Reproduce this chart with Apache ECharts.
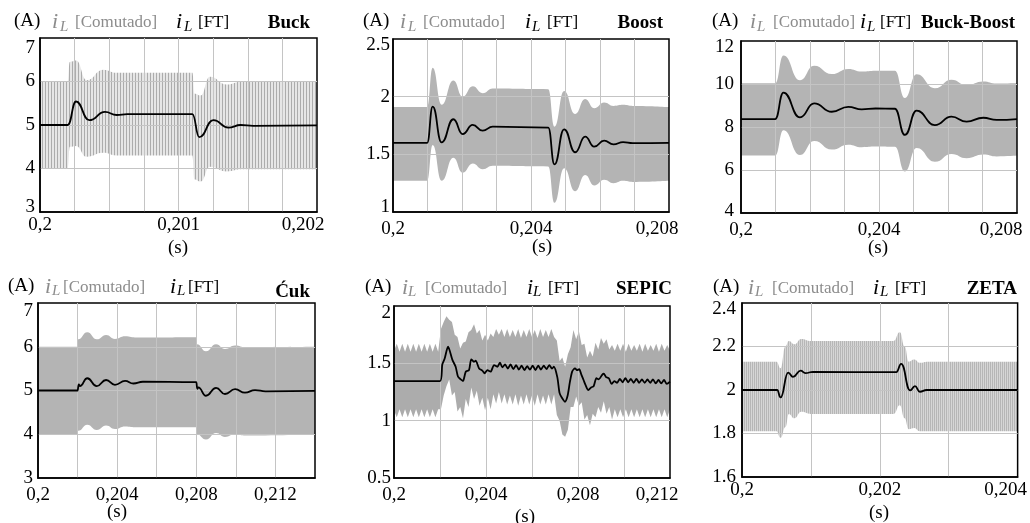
<!DOCTYPE html>
<html lang="pt-BR">
<head>
<meta charset="UTF-8">
<title>Corrente no indutor: comutado x função de transferência</title>
<script src="https://cdn.jsdelivr.net/npm/echarts@6/dist/echarts.min.js"></script>
<style>
  body { margin: 0; background: #fff; }
  #chart { width: 1030px; height: 523px; }
</style>
</head>
<body>
<div id="chart"></div>
<script>
// tempo em ms (o eixo mostra em s)

// ---- Buck ----
const buckXLabels = [200, 201, 202];
const buckT  = [200, 200.2, 200.26, 200.356, 200.469, 200.554, 200.63, 201.1, 201.15, 201.252, 201.36, 201.449, 201.54, 202];
const buckFT = [5.0, 5.0, 5.54, 5.11, 5.30, 5.23, 5.25, 5.25, 4.72, 5.11, 4.94, 5.00, 4.98, 4.99];
const buckBandT = [200, 200.2, 200.215, 200.26, 200.337, 200.457, 200.55, 201.1, 201.115, 201.16, 201.227, 201.348, 201.46, 202];
const buckUp = [6.0, 6.0, 6.45, 6.48, 6.03, 6.27, 6.2, 6.2, 5.72, 5.68, 6.11, 5.93, 6.0, 6.0];
const buckLo = [4.0, 4.0, 4.5, 4.52, 4.27, 4.36, 4.3, 4.3, 3.75, 3.7, 4.04, 3.93, 3.98, 3.98];

// ---- Boost ----
const boostXLabels = [200, 204, 208];
const boostT  = [200, 200.99, 201.15, 201.41, 201.75, 202.02, 202.31, 202.6, 202.89, 204.5, 204.68, 204.96, 205.28, 205.57, 205.83, 206.12, 206.39, 206.67, 206.95, 208];
const boostFT = [1.60, 1.60, 1.913, 1.604, 1.804, 1.676, 1.755, 1.705, 1.74, 1.732, 1.413, 1.717, 1.518, 1.653, 1.566, 1.618, 1.587, 1.606, 1.597, 1.60];
const boostUp = [1.91, 1.91, 2.25, 1.93, 2.14, 2.0, 2.09, 2.03, 2.07, 2.065, 1.74, 2.05, 1.85, 1.98, 1.9, 1.95, 1.92, 1.93, 1.92, 1.91];
const boostLo = [1.27, 1.27, 1.58, 1.27, 1.47, 1.34, 1.42, 1.37, 1.40, 1.395, 1.08, 1.38, 1.18, 1.32, 1.23, 1.28, 1.25, 1.27, 1.26, 1.27];

// ---- Buck-Boost ----
const bbXLabels = [200, 204, 208];
const bbT  = [200, 200.99, 201.23, 201.71, 202.12, 202.63, 203.11, 203.5, 203.9, 204.46, 204.75, 205.09, 205.62, 206.1, 206.54, 207.02, 207.41, 208];
const bbFT = [8.37, 8.37, 9.6, 8.45, 9.1, 8.71, 8.94, 8.82, 8.86, 8.85, 7.63, 8.76, 8.09, 8.48, 8.25, 8.43, 8.33, 8.37];
const bbUp = [10.03, 10.03, 11.33, 10.18, 10.85, 10.46, 10.7, 10.58, 10.62, 10.62, 9.35, 10.45, 9.8, 10.2, 9.95, 10.12, 10.02, 10.03];
const bbLo = [6.67, 6.67, 7.85, 6.7, 7.35, 6.95, 7.18, 7.06, 7.09, 7.08, 5.93, 7.02, 6.38, 6.75, 6.55, 6.72, 6.63, 6.67];

// ---- Cuk ----
const cukXLabels = [200, 204, 208, 212];
const cukT  = [200, 202.0, 202.06, 202.12, 202.49, 202.97, 203.44, 203.89, 204.4, 204.82, 205.3, 208.0, 208.05, 208.1, 208.49, 209.0, 209.45, 209.96, 210.46, 210.97, 211.5, 214];
const cukFT = [5.0, 5.0, 5.14, 5.10, 5.28, 5.10, 5.24, 5.13, 5.22, 5.16, 5.20, 5.19, 5.04, 5.07, 4.88, 5.06, 4.92, 5.03, 4.95, 5.01, 4.98, 4.99];
const cukBandT = [200, 202.0, 202.03, 202.49, 202.97, 203.44, 203.89, 204.4, 205.0, 208.0, 208.03, 208.49, 209.0, 209.45, 209.96, 210.5, 214];
const cukUp = [6.0, 6.0, 6.17, 6.33, 6.17, 6.27, 6.18, 6.24, 6.21, 6.22, 6.06, 5.9, 6.06, 5.95, 6.03, 5.99, 6.0];
const cukLo = [4.0, 4.0, 4.08, 4.22, 4.1, 4.2, 4.12, 4.18, 4.16, 4.16, 4.0, 3.88, 4.03, 3.94, 4.0, 3.97, 4.0];

// ---- SEPIC ----
const sepicXLabels = [200, 204, 208, 212];
const sepicT = [200, 202.0, 202.1, 202.2, 202.35, 202.54, 202.68, 202.78, 202.9, 203.0, 203.12, 203.26, 203.36, 203.48, 203.55,
  203.7, 203.84, 203.94, 204.06, 204.2, 204.35, 204.49, 204.61, 204.71, 204.83, 204.95, 205.07, 205.19, 205.31, 205.43,
  205.55, 205.67, 205.79, 205.91, 206.03, 206.15, 206.27, 206.39, 206.51, 206.63, 206.75, 206.87, 206.95, 207.1, 207.2,
  207.3, 207.43, 207.55, 207.65, 207.75, 207.87, 207.97, 208.05, 208.15, 208.25, 208.33, 208.45, 208.57, 208.68, 208.8,
  208.9, 209.05, 209.12, 209.22, 209.34, 209.46, 209.58, 209.7, 209.82, 209.94, 210.06, 210.18, 210.3, 210.42, 210.54,
  210.66, 210.78, 210.9, 211.02, 211.14, 211.26, 211.38, 211.5, 211.62, 211.74, 211.86, 212];
const sepicFT = [1.345, 1.345, 1.49, 1.54, 1.645, 1.53, 1.47, 1.385, 1.36, 1.346, 1.427, 1.44, 1.535, 1.514, 1.523,
  1.456, 1.436, 1.413, 1.44, 1.427, 1.485, 1.47, 1.505, 1.465, 1.49, 1.455, 1.49, 1.45, 1.485, 1.445,
  1.48, 1.44, 1.475, 1.445, 1.48, 1.44, 1.48, 1.445, 1.48, 1.45, 1.485, 1.455, 1.47, 1.38, 1.24,
  1.2, 1.165, 1.22, 1.34, 1.43, 1.456, 1.44, 1.45, 1.40, 1.35, 1.31, 1.267, 1.29, 1.3, 1.37,
  1.36, 1.4, 1.41, 1.38, 1.37, 1.32, 1.345, 1.33, 1.365, 1.335, 1.37, 1.335, 1.365, 1.33, 1.365,
  1.33, 1.36, 1.33, 1.36, 1.33, 1.36, 1.325, 1.355, 1.325, 1.355, 1.32, 1.34];
const sepicBandT = [200.00, 200.12, 200.24, 200.36, 200.48, 200.60, 200.72, 200.84, 200.96, 201.08,
  201.20, 201.32, 201.44, 201.56, 201.68, 201.80, 201.92, 202.04, 202.16, 202.28,
  202.40, 202.52, 202.64, 202.76, 202.88, 203.00, 203.12, 203.24, 203.36, 203.48,
  203.60, 203.72, 203.84, 203.96, 204.08, 204.20, 204.32, 204.44, 204.56, 204.68,
  204.80, 204.92, 205.04, 205.16, 205.28, 205.40, 205.52, 205.64, 205.76, 205.88,
  206.00, 206.12, 206.24, 206.36, 206.48, 206.60, 206.72, 206.84, 206.96, 207.08,
  207.20, 207.32, 207.44, 207.56, 207.68, 207.80, 207.92, 208.04, 208.16, 208.28,
  208.40, 208.52, 208.64, 208.76, 208.88, 209.00, 209.12, 209.24, 209.36, 209.48,
  209.60, 209.72, 209.84, 209.96, 210.08, 210.20, 210.32, 210.44, 210.56, 210.68,
  210.80, 210.92, 211.04, 211.16, 211.28, 211.40, 211.52, 211.64, 211.76, 211.88,
  212.00];
const sepicUp = [1.61, 1.67, 1.60, 1.67, 1.60, 1.67, 1.60, 1.67, 1.60, 1.67,
  1.60, 1.67, 1.60, 1.67, 1.60, 1.67, 1.60, 1.80, 1.86, 1.91,
  1.88, 1.86, 1.75, 1.73, 1.63, 1.68, 1.69, 1.77, 1.79, 1.84,
  1.76, 1.79, 1.70, 1.75, 1.70, 1.76, 1.73, 1.80, 1.75, 1.80,
  1.73, 1.80, 1.73, 1.79, 1.73, 1.80, 1.72, 1.79, 1.73, 1.80,
  1.73, 1.79, 1.72, 1.80, 1.73, 1.79, 1.73, 1.80, 1.73, 1.70,
  1.52, 1.55, 1.47, 1.58, 1.64, 1.79, 1.71, 1.78, 1.66, 1.67,
  1.55, 1.61, 1.56, 1.68, 1.62, 1.72, 1.67, 1.71, 1.62, 1.66,
  1.61, 1.67, 1.61, 1.67, 1.60, 1.67, 1.61, 1.66, 1.61, 1.67,
  1.60, 1.67, 1.61, 1.66, 1.61, 1.67, 1.60, 1.67, 1.61, 1.66,
  1.61];
const sepicLo = [1.09, 1.03, 1.10, 1.03, 1.10, 1.03, 1.10, 1.03, 1.10, 1.03,
  1.10, 1.03, 1.10, 1.03, 1.10, 1.03, 1.10, 1.10, 1.22, 1.30,
  1.36, 1.22, 1.25, 1.08, 1.12, 1.02, 1.19, 1.12, 1.29, 1.19,
  1.26, 1.13, 1.20, 1.09, 1.20, 1.10, 1.23, 1.15, 1.25, 1.15,
  1.23, 1.14, 1.22, 1.14, 1.23, 1.13, 1.22, 1.14, 1.23, 1.14,
  1.22, 1.13, 1.23, 1.14, 1.22, 1.14, 1.23, 1.14, 1.23, 1.05,
  1.00, 0.88, 0.86, 0.92, 1.12, 1.12, 1.21, 1.13, 1.16, 1.01,
  1.05, 0.96, 1.06, 1.03, 1.12, 1.07, 1.17, 1.06, 1.12, 1.01,
  1.10, 1.03, 1.10, 1.03, 1.10, 1.03, 1.10, 1.03, 1.10, 1.03,
  1.10, 1.03, 1.10, 1.03, 1.10, 1.03, 1.10, 1.03, 1.10, 1.03,
  1.10];

// ---- ZETA ----
const zetaXLabels = [200, 202, 204];
const zetaT  = [200, 200.51, 200.56, 200.67, 200.74, 200.85, 200.92, 201.03, 202.24, 202.31, 202.44, 202.51, 202.58, 202.68, 204];
const zetaFT = [2.0, 2.0, 1.966, 2.08, 2.06, 2.089, 2.078, 2.083, 2.082, 2.12, 1.998, 2.018, 1.992, 2.0, 2.0];
const zetaBandT = [200, 200.5, 200.56, 200.63, 200.68, 200.76, 200.86, 201.0, 202.2, 202.29, 202.36, 202.42, 202.5, 202.58, 202.7, 204];
const zetaUp = [2.13, 2.13, 2.10, 2.20, 2.225, 2.21, 2.235, 2.225, 2.225, 2.265, 2.2, 2.13, 2.14, 2.125, 2.13, 2.13];
const zetaLo = [1.81, 1.81, 1.78, 1.83, 1.89, 1.87, 1.90, 1.89, 1.89, 1.93, 1.87, 1.82, 1.825, 1.81, 1.81, 1.81];

const FONT = '"Liberation Serif", "Times New Roman", serif';
const GRIDC = '#c4c4c4';
const GRAYTXT = '#8c8c8c';

function stripes(period, dark, light) {
  const c = document.createElement('canvas');
  c.width = period; c.height = 8;
  const g = c.getContext('2d');
  g.fillStyle = light; g.fillRect(0, 0, period, 8);
  g.fillStyle = dark; g.fillRect(0, 0, 1, 8);
  return { image: c, repeat: 'repeat' };
}

const panels = [
  { name: 'Buck', x: [200, 202, 0.25], xl: buckXLabels, y: [3, 7, 1],
    ft: [buckT, buckFT], band: [buckBandT, buckUp, buckLo] },
  { name: 'Boost', x: [200, 208, 1], xl: boostXLabels, y: [1, 2.5, 0.5],
    ft: [boostT, boostFT], band: [boostT, boostUp, boostLo] },
  { name: 'Buck-Boost', x: [200, 208, 1], xl: bbXLabels, y: [4, 12, 2],
    ft: [bbT, bbFT], band: [bbT, bbUp, bbLo] },
  { name: 'Ćuk', x: [200, 214, 2], xl: cukXLabels, y: [3, 7, 1],
    ft: [cukT, cukFT], band: [cukBandT, cukUp, cukLo] },
  { name: 'SEPIC', x: [200, 212, 2], xl: sepicXLabels, y: [0.5, 2, 0.5],
    ft: [sepicT, sepicFT], band: [sepicBandT, sepicUp, sepicLo] },
  { name: 'ZETA', x: [200, 204, 1], xl: zetaXLabels, y: [1.6, 2.4, 0.2],
    ft: [zetaT, zetaFT], band: [zetaBandT, zetaUp, zetaLo] }
];

// posições e estilos de cada quadro
const layout = [
  { left: 40, top: 38, width: 277, height: 174, xm: 4, ym: 5, yt: 20, yb: 10, shift: 14, s: [178, 248],
    head: [14, 52, 60, 75, 176, 184, 198, 310], hy: 22.5, ty: 22.6,
    fill: stripes(3, '#acacac', '#e6e6e6'), smooth: 0.5, mono: 'x' },
  { left: 393, top: 39, width: 276, height: 173, xm: 8, ym: 3, yt: 12, yb: 10, shift: 12, s: [542, 247],
    head: [363, 400, 408, 423, 525, 532, 547, 663], hy: 22.5, ty: 22.6,
    fill: '#b4b4b4', smooth: 0.5, mono: 'x' },
  { left: 741, top: 41, width: 276, height: 172, xm: 8, ym: 7, yt: 12, yb: 4, shift: 16, s: [878, 248],
    head: [712, 750, 757, 773, 860, 867, 880, 1015], hy: 22.5, ty: 22.6,
    fill: '#b4b4b4', smooth: 0.5, mono: 'x' },
  { left: 38, top: 303, width: 277, height: 175, xm: 8, ym: 5, yt: 16, yb: 0, shift: 0, s: [117, 512],
    head: [8, 45, 52, 63, 170, 177, 188, 310], hy: 286.8, ty: 291.6,
    fill: '#b4b4b4', smooth: 0.5, mono: 'x' },
  { left: 394, top: 306, width: 276, height: 172, xm: 8, ym: 3, yt: 14, yb: 0, shift: 13, s: [525, 517],
    head: [365, 402, 408, 425, 527, 533, 548, 672], hy: 287.8, ty: 288.6,
    fill: '#acacac', smooth: false, ftSmooth: 0.25 },
  { left: 742, top: 303, width: 276, height: 174, xm: 4, ym: 6, yt: 13, yb: 0, shift: 12, s: [879, 513],
    head: [713, 748, 755, 772, 873, 880, 895, 1017], hy: 287.8, ty: 288.6,
    fill: stripes(2, '#b6b6b6', '#d6d6d6'), smooth: 0.5, mono: 'x' }
];

function near(a, b) { return Math.abs(a - b) < 1e-6; }
function fmtX(v) { return String(+(v / 1000).toFixed(6)).replace('.', ','); }
function fmtY(v) { return String(+v.toFixed(2)); }

const grid = [], xAxis = [], yAxis = [], series = [], graphic = [];

panels.forEach((p, i) => {
  const L = layout[i];
  grid.push({ left: L.left, top: L.top, width: L.width, height: L.height,
    show: true, borderColor: '#000', borderWidth: 1.5 });

  xAxis.push({
    gridIndex: i, type: 'value', min: p.x[0], max: p.x[1], interval: p.x[2],
    axisLine: { show: true, onZero: false, lineStyle: { color: '#000', width: 1.5 } },
    axisTick: { show: false },
    splitLine: { show: true, showMinLine: false, showMaxLine: false, lineStyle: { color: GRIDC, width: 1 } },
    axisLabel: {
      margin: L.xm, fontFamily: FONT, fontSize: 19, color: '#000',
      formatter: v => {
        if (!p.xl.some(l => near(l, v))) return '';
        const s = fmtX(v);
        return (near(v, p.x[1]) && L.shift) ? '{r|' + s + '}' : s;
      },
      rich: { r: { fontFamily: FONT, fontSize: 19, color: '#000', padding: [0, L.shift * 2, 0, 0] } }
    }
  });

  yAxis.push({
    gridIndex: i, type: 'value', min: p.y[0], max: p.y[1], interval: p.y[2],
    axisLine: { show: true, onZero: false, lineStyle: { color: '#000', width: 1.5 } },
    axisTick: { show: false },
    splitLine: { show: true, showMinLine: false, showMaxLine: false, lineStyle: { color: GRIDC, width: 1 } },
    axisLabel: {
      margin: L.ym, fontFamily: FONT, fontSize: 19, color: '#000',
      formatter: v => {
        const s = fmtY(v);
        if (near(v, p.y[1])) return '{t|' + s + '}';
        if (near(v, p.y[0])) return '{b|' + s + '}';
        return s;
      },
      rich: {
        t: { fontFamily: FONT, fontSize: 19, color: '#000', padding: [L.yt, 0, 0, 0] },
        b: { fontFamily: FONT, fontSize: 19, color: '#000', padding: [0, 0, L.yb, 0] }
      }
    }
  });

  // faixa cinza do sinal comutado: área do envelope superior, recortada em branco abaixo do inferior
  const [bt, up, lo] = p.band;
  const band = { type: 'line', xAxisIndex: i, yAxisIndex: i, symbol: 'none', silent: true,
    smooth: L.smooth, smoothMonotone: L.mono, lineStyle: { opacity: 0 } };
  series.push(Object.assign({}, band, {
    data: bt.map((t, k) => [t, up[k]]),
    areaStyle: { color: L.fill, opacity: 1, origin: 'start' }, z: -2
  }));
  series.push(Object.assign({}, band, {
    data: bt.map((t, k) => [t, lo[k]]),
    areaStyle: { color: '#fff', opacity: 1, origin: 'start' }, z: -1
  }));
  series.push({
    type: 'line', xAxisIndex: i, yAxisIndex: i, symbol: 'none', silent: true,
    smooth: L.ftSmooth !== undefined ? L.ftSmooth : L.smooth, smoothMonotone: L.mono,
    data: p.ft[0].map((t, k) => [t, p.ft[1][k]]),
    lineStyle: { color: '#000', width: 1.8 }, z: 5
  });

  // cabeçalho: (A)  iL[Comutado]  iL[FT]  nome
  const h = L.head, y = L.hy;
  const txt = (x, yy, text, font, fill, align) => ({
    type: 'text', x: x, y: yy, silent: true,
    style: { text: text, font: font, fill: fill, align: align || 'left', verticalAlign: 'middle' }
  });
  graphic.push(txt(h[0], y - 1, '(A)', '19px ' + FONT, '#000'));
  graphic.push(txt(h[1], y + 0.2, 'i', 'italic 22px ' + FONT, GRAYTXT));
  graphic.push(txt(h[2], y + 4.7, 'L', 'italic 15px ' + FONT, GRAYTXT));
  graphic.push(txt(h[3], y + 0.5, '[Comutado]', '17px ' + FONT, GRAYTXT));
  graphic.push(txt(h[4], y + 0.2, 'i', 'italic 22px ' + FONT, '#000'));
  graphic.push(txt(h[5], y + 4.7, 'L', 'italic 15px ' + FONT, '#000'));
  graphic.push(txt(h[6], y + 0.5, '[FT]', '17px ' + FONT, '#000'));
  graphic.push(txt(h[7], L.ty, p.name, 'bold 19px ' + FONT, '#000', 'right'));
  graphic.push(txt(L.s[0], L.s[1], '(s)', '19px ' + FONT, '#000', 'center'));
});

const chart = echarts.init(document.getElementById('chart'), null, { renderer: 'canvas' });
chart.setOption({
  animation: false,
  backgroundColor: '#fff',
  grid: grid,
  xAxis: xAxis,
  yAxis: yAxis,
  series: series,
  graphic: graphic
});
</script>
</body>
</html>
